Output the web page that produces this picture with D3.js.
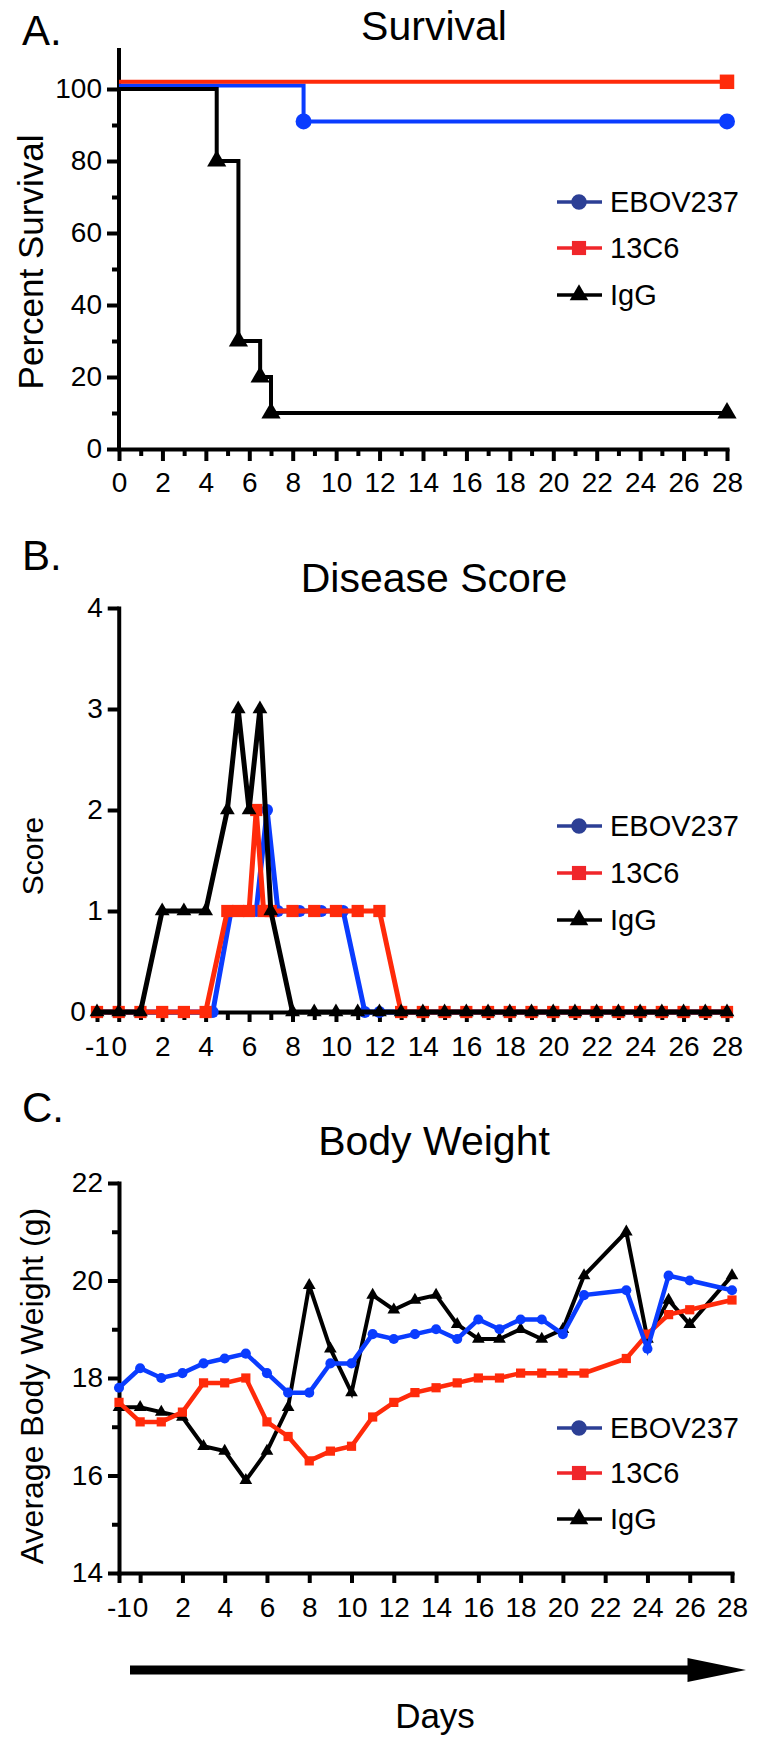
<!DOCTYPE html>
<html><head><meta charset="utf-8">
<script src="https://cdn.jsdelivr.net/npm/d3@7"></script>
<style>
body{margin:0;background:#fff}
svg{display:block}
text{font-family:"Liberation Sans",Arial,Helvetica,sans-serif;fill:#000}
</style>
</head><body>
<svg id="chart" width="757" height="1748"></svg>
<script>
// ---------------- DATA ----------------
const seriesNames = ["EBOV237", "13C6", "IgG"];

// A. Survival (percent)
const survDaysEBOV = [0, 8.5, 28];
const survPctEBOV  = [101, 91, 91];
const survDays13C6 = [0, 28];
const survPct13C6  = [102, 102];
const survDaysIgG  = [0, 4.5, 5.5, 6.5, 7, 28];
const survPctIgG   = [100, 80, 30, 20, 10, 10];
const survXTicks = [0,2,4,6,8,10,12,14,16,18,20,22,24,26,28];
const survYTicks = [0,20,40,60,80,100];

// B. Disease score
const scoreDaysEBOV = [-1,0,1,2,3,4,4.33,5.17,5.67,6.33,6.83,7.33,8.33,9.33,10.33,11.33,12,13,14,15,16,17,18,19,20,21,22,23,24,25,26,27,28];
const scoreEBOV     = [0,0,0,0,0,0,0,1,1,1,2,1,1,1,1,0,0,0,0,0,0,0,0,0,0,0,0,0,0,0,0,0,0];
const scoreDays13C6 = [-1,0,1,2,3,4,5,5.5,6,6.33,6.67,7,8,9,10,11,12,13,14,15,16,17,18,19,20,21,22,23,24,25,26,27,28];
const score13C6     = [0,0,0,0,0,0,1,1,1,2,1,1,1,1,1,1,1,0,0,0,0,0,0,0,0,0,0,0,0,0,0,0,0];
const scoreDaysIgG  = [-1,0,1,2,3,4,5,5.5,6,6.5,7,8,9,10,11,12,13,14,15,16,17,18,19,20,21,22,23,24,25,26,27,28];
const scoreIgG      = [0,0,0,1,1,1,2,3,2,3,1,0,0,0,0,0,0,0,0,0,0,0,0,0,0,0,0,0,0,0,0,0];
const scoreXLabels = [-1,0,2,4,6,8,10,12,14,16,18,20,22,24,26,28];
const scoreYTicks = [0,1,2,3,4];

// C. Body weight (g)
const bwDays   = [-1,0,1,2,3,4,5,6,7,8,9,10,11,12,13,14,15,16,17,18,19,20,21,23,24,25,26,28];
const bwEBOV   = [17.8,18.2,18.0,18.1,18.3,18.4,18.5,18.1,17.7,17.7,18.3,18.3,18.9,18.8,18.9,19.0,18.8,19.2,19.0,19.2,19.2,18.9,19.7,19.8,18.6,20.1,20.0,19.8];
const bw13C6   = [17.5,17.1,17.1,17.3,17.9,17.9,18.0,17.1,16.8,16.3,16.5,16.6,17.2,17.5,17.7,17.8,17.9,18.0,18.0,18.1,18.1,18.1,18.1,18.4,18.9,19.3,19.4,19.6];
const bwIgG    = [17.4,17.4,17.3,17.2,16.6,16.5,15.9,16.5,17.4,19.9,18.6,17.7,19.7,19.4,19.6,19.7,19.1,18.8,18.8,19.0,18.8,19.0,20.1,21.0,18.8,19.6,19.1,20.1];
const bwXLabels = [-1,0,2,4,6,8,10,12,14,16,18,20,22,24,26,28];
const bwYTicks = [14,16,18,20,22];

// ---------------- STYLE ----------------
const COL = {"EBOV237":"#0a3cff", "13C6":"#ff2a0a", "IgG":"#000000"};
const LEGCOL = {"EBOV237":"#2c3f95", "13C6":"#f0262a", "IgG":"#000000"};
const SYM = {"EBOV237":d3.symbolCircle, "13C6":d3.symbolSquare, "IgG":d3.symbolTriangle};

const svg = d3.select("#chart");
const TICKFONT = 28;
const plainFmt = d => String(d);

function zip(xs, ys){ return xs.map((x,i)=>[x, ys[i]]); }

function styleAxis(g){
  g.selectAll("path.domain").attr("stroke","#000").attr("stroke-width",4).attr("stroke-linecap","square");
  g.selectAll(".tick line").attr("stroke","#000").attr("stroke-width",4);
  g.selectAll(".tick text").attr("font-size",TICKFONT).attr("font-family","Liberation Sans, Arial, sans-serif").attr("fill","#000");
}

function drawSeries(g, x, y, pts, name, opts){
  const line = d3.line().x(d=>x(d[0])).y(d=>y(d[1]));
  if (opts.step) line.curve(d3.curveStepAfter);
  g.append("path").datum(pts).attr("fill","none").attr("stroke",COL[name])
    .attr("stroke-width",opts.lw).attr("stroke-linejoin","miter").attr("d",line);
  const mpts = opts.markIdx ? opts.markIdx.map(i=>pts[i]) : pts;
  const sz = opts.sizes[name];
  g.selectAll(null).data(mpts).enter().append("path")
    .attr("transform",d=>`translate(${x(d[0])},${y(d[1])})`)
    .attr("d", d3.symbol().type(SYM[name]).size(sz))
    .attr("fill",COL[name]);
}

function legend(g, x0, ys){
  seriesNames.forEach((n,i)=>{
    const yy = ys[i];
    g.append("line").attr("x1",x0).attr("x2",x0+45).attr("y1",yy).attr("y2",yy)
      .attr("stroke",LEGCOL[n]).attr("stroke-width",3.5);
    const sz = n==="EBOV237"?190:(n==="13C6"?200:150);
    g.append("path").attr("transform",`translate(${x0+22},${yy})`)
      .attr("d",d3.symbol().type(SYM[n]).size(sz)).attr("fill",LEGCOL[n]);
    g.append("text").attr("x",x0+53).attr("y",yy+10).attr("font-size",29).text(n);
  });
}

function titleAndLetter(letter, title, yLetter, yTitle){
  svg.append("text").attr("x",22).attr("y",yLetter).attr("font-size",42).text(letter);
  svg.append("text").attr("x",434).attr("y",yTitle).attr("font-size",41).attr("text-anchor","middle").text(title);
}
function yLabel(text, cy, fs){
  svg.append("text").attr("transform",`translate(43,${cy}) rotate(-90)`)
    .attr("text-anchor","middle").attr("font-size",fs).text(text);
}

// ---------------- PANEL A ----------------
(function(){
  const x = d3.scaleLinear().domain([0,28]).range([119,727]);
  const y = d3.scaleLinear().domain([0,110]).range([449,53]);
  titleAndLetter("A.","Survival",45,40);
  yLabel("Percent Survival",262,35);
  const g = svg.append("g");
  const gxm = g.append("g").attr("transform",`translate(0,${y(0)})`)
    .call(d3.axisBottom(x).tickValues([1,3,5,7,9,11,13,15,17,19,21,23,25,27]).tickSize(7).tickFormat(""));
  styleAxis(gxm); gxm.select(".domain").remove();
  const gym = g.append("g").attr("transform",`translate(${x(0)},0)`)
    .call(d3.axisLeft(y).tickValues([10,30,50,70,90]).tickSize(7).tickFormat(""));
  styleAxis(gym); gym.select(".domain").remove();
  const gx = g.append("g").attr("transform",`translate(0,${y(0)})`)
    .call(d3.axisBottom(x).tickValues(survXTicks).tickFormat(plainFmt).tickSize(12).tickPadding(11).tickSizeOuter(0));
  styleAxis(gx);
  const gy = g.append("g").attr("transform",`translate(${x(0)},0)`)
    .call(d3.axisLeft(y).tickValues(survYTicks).tickFormat(plainFmt).tickSize(12).tickPadding(5).tickSizeOuter(0));
  gy.select(".domain").attr("d",`M0,${y(0)}V${y(110)-3}`);
  styleAxis(gy);
  const sizes = {"EBOV237":200,"13C6":210,"IgG":160};
  drawSeries(g,x,y,zip(survDaysEBOV,survPctEBOV),"EBOV237",{step:true,lw:4,markIdx:[1,2],sizes});
  drawSeries(g,x,y,zip(survDays13C6,survPct13C6),"13C6",{step:true,lw:4,markIdx:[1],sizes});
  drawSeries(g,x,y,zip(survDaysIgG,survPctIgG),"IgG",{step:true,lw:4,markIdx:[1,2,3,4,5],sizes});
  legend(g,557,[202,248,295]);
})();

// ---------------- PANEL B ----------------
(function(){
  const x = d3.scaleLinear().domain([-1,28]).range([97,727]);
  const y = d3.scaleLinear().domain([0,4]).range([1012,608]);
  titleAndLetter("B.","Disease Score",570,592);
  yLabel("Score",856,30);
  const g = svg.append("g");
  const dayTicks = [1,3,5,7,9,11,13,15,17,19,21,23,25,27];
  const gxm = g.append("g").attr("transform",`translate(0,${y(0)})`)
    .call(d3.axisBottom(x).tickValues(dayTicks).tickSize(8).tickFormat(""));
  styleAxis(gxm); gxm.select(".domain").remove();
  const gx = g.append("g").attr("transform",`translate(0,${y(0)})`)
    .call(d3.axisBottom(x).tickValues(scoreXLabels).tickFormat(plainFmt).tickSize(10).tickPadding(14).tickSizeOuter(0));
  styleAxis(gx);
  const gy = g.append("g").attr("transform",`translate(${x(0)},0)`)
    .call(d3.axisLeft(y).tickValues(scoreYTicks).tickFormat(plainFmt).tickSize(11).tickPadding(5).tickSizeOuter(0));
  styleAxis(gy);
  // the "0" label sits left of the extended x axis
  gy.selectAll(".tick text").filter(d=>d===0).attr("x",-33);
  const sizes = {"EBOV237":110,"13C6":150,"IgG":95};
  drawSeries(g,x,y,zip(scoreDaysEBOV,scoreEBOV),"EBOV237",{lw:5,sizes});
  drawSeries(g,x,y,zip(scoreDays13C6,score13C6),"13C6",{lw:5,sizes});
  drawSeries(g,x,y,zip(scoreDaysIgG,scoreIgG),"IgG",{lw:5,sizes});
  legend(g,557,[826,873,920]);
})();

// ---------------- PANEL C ----------------
(function(){
  const x = d3.scaleLinear().domain([-1,28]).range([119,732]);
  const y = d3.scaleLinear().domain([14,22]).range([1573,1183]);
  titleAndLetter("C.","Body Weight",1122,1155);
  yLabel("Average Body Weight (g)",1386,32);
  const g = svg.append("g");
  const gym = g.append("g").attr("transform",`translate(${x(-1)},0)`)
    .call(d3.axisLeft(y).tickValues([15,17,19,21]).tickSize(7).tickFormat(""));
  styleAxis(gym); gym.select(".domain").remove();
  const gx = g.append("g").attr("transform",`translate(0,${y(14)})`)
    .call(d3.axisBottom(x).tickValues(bwXLabels).tickFormat(plainFmt).tickSize(10).tickPadding(14).tickSizeOuter(0));
  styleAxis(gx);
  const gy = g.append("g").attr("transform",`translate(${x(-1)},0)`)
    .call(d3.axisLeft(y).tickValues(bwYTicks).tickFormat(plainFmt).tickSize(11).tickPadding(5).tickSizeOuter(0));
  styleAxis(gy);
  const sizes = {"EBOV237":80,"13C6":85,"IgG":70};
  drawSeries(g,x,y,zip(bwDays,bwIgG),"IgG",{lw:4,sizes});
  drawSeries(g,x,y,zip(bwDays,bw13C6),"13C6",{lw:4.5,sizes});
  drawSeries(g,x,y,zip(bwDays,bwEBOV),"EBOV237",{lw:4.5,sizes});
  legend(g,557,[1428,1473,1519]);

  // Days arrow
  const ax = d3.scaleLinear().domain([0,1]).range([130,746]);
  const ay = 1670;
  svg.append("line").attr("x1",ax(0)).attr("x2",ax(0.91)).attr("y1",ay).attr("y2",ay)
    .attr("stroke","#000").attr("stroke-width",9);
  svg.append("path").attr("d",`M${ax(0.905)},${ay-12}L${ax(1)},${ay}L${ax(0.905)},${ay+12}Z`).attr("fill","#000");
  svg.append("text").attr("x",435).attr("y",1728).attr("font-size",35).attr("text-anchor","middle").text("Days");
})();
</script>
</body></html>
